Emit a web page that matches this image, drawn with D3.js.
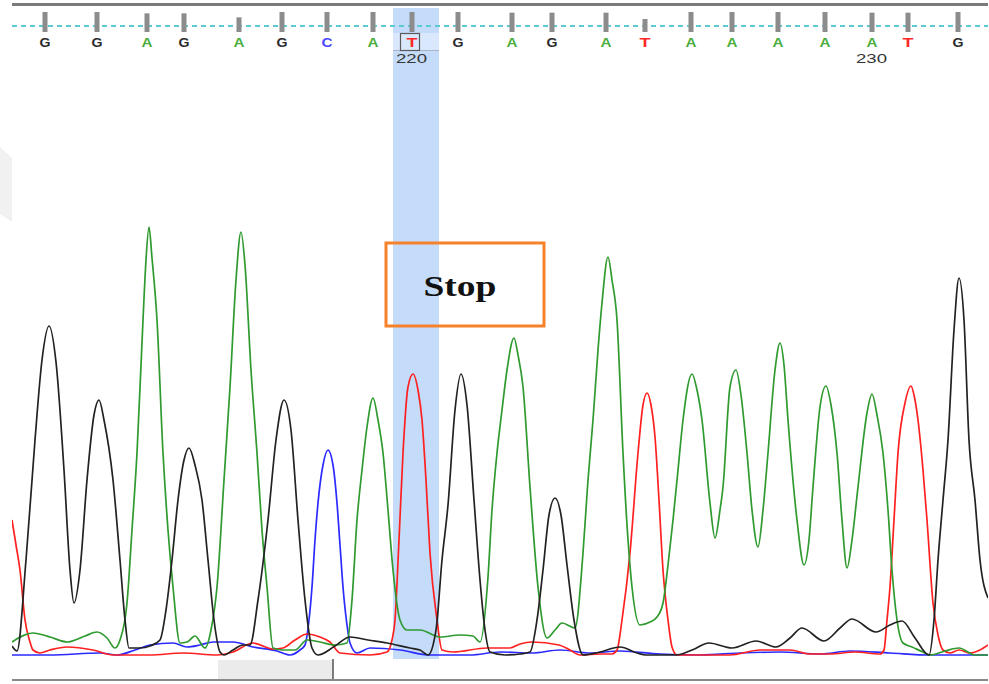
<!DOCTYPE html>
<html>
<head>
<meta charset="utf-8">
<script src="https://cdn.jsdelivr.net/npm/d3@7"></script>
<style>
  body { margin: 0; background: #fff; }
  svg { display: block; }
</style>
</head>
<body>
<svg id="chart"></svg>
<script>
// base calls, positions in scan units, quality values
var bases = ["G","G","A","G","A","G","C","A","T","G","A","G","A","T","A","A","A","A","A","T","G"];
var basePositions = [33,85,135,172,227,270,315,361,400,446,500,540,594,633,679,720,766,813,860,896,946];
var qualities = [60,60,56,56,44,60,60,60,60,60,58,58,58,39,60,60,60,60,58,58,60];
var firstBaseNumber = 212;
var labelledNumbers = [220, 230];
var stopIndex = 8;              // T at 220
var stopRange = [381, 427];     // highlighted scan range

// traces: [scan, signal]
var traceG = [[0,9],[5,4],[14,95],[23,215],[30,295],[37,329],[44,293],[52,185],[58,85],[62,52],[68,85],[75,175],[82,240],[87,255],[92,235],[101,175],[108,95],[113,35],[117,7],[128,7],[138,9],[148,15],[154,45],[160,95],[166,155],[172,195],[177,207],[183,190],[190,155],[196,95],[202,35],[208,3],[212,0],[221,5],[231,10],[238,10],[246,55],[256,135],[264,215],[272,255],[279,225],[286,135],[293,55],[300,7],[306,0],[323,9],[338,18],[356,15],[375,12],[398,7],[408,5],[416,0],[424,25],[430,95],[436,150],[443,245],[449,281],[455,250],[462,155],[468,75],[473,25],[478,3],[493,0],[508,1],[518,3],[525,35],[531,85],[537,140],[543,157],[549,140],[555,90],[562,35],[571,0],[588,3],[608,8],[625,2],[634,0],[664,0],[680,5],[697,12],[720,7],[744,14],[764,8],[778,17],[790,27],[812,14],[828,27],[840,36],[864,23],[878,30],[890,34],[903,17],[917,0],[922,35],[926,95],[931,155],[936,215],[942,325],[947,377],[952,335],[957,215],[963,155],[968,95],[976,57]];

var traceA = [[0,13],[21,22],[38,18],[55,13],[73,19],[85,23],[95,17],[103,7],[108,15],[115,52],[120,125],[125,202],[131,335],[134,395],[137,428],[140,397],[145,335],[151,202],[156,125],[161,68],[168,12],[175,13],[183,19],[193,7],[199,25],[205,68],[212,175],[218,268],[224,375],[229,423],[233,390],[239,285],[245,202],[250,125],[255,68],[261,7],[271,5],[283,5],[295,15],[308,13],[323,10],[335,12],[340,55],[345,135],[350,185],[355,228],[361,257],[366,235],[371,202],[376,145],[381,85],[388,35],[395,25],[408,25],[428,18],[448,20],[461,19],[468,13],[476,78],[480,145],[485,202],[490,245],[495,285],[502,317],[506,300],[511,268],[518,168],[526,68],[535,17],[543,25],[550,32],[563,27],[571,102],[576,175],[581,235],[586,305],[590,352],[596,398],[600,375],[605,335],[611,202],[616,115],[620,68],[628,30],[638,33],[645,38],[651,52],[656,90],[661,135],[666,185],[671,235],[680,281],[685,265],[690,235],[698,152],[703,117],[708,145],[711,168],[718,268],[724,285],[729,260],[735,202],[740,145],[746,108],[751,145],[756,202],[763,285],[768,312],[772,290],[776,235],[785,135],[792,90],[797,115],[801,168],[808,248],[814,269],[819,250],[825,202],[830,135],[835,87],[840,115],[846,168],[855,242],[860,261],[865,240],[871,202],[876,145],[880,85],[885,35],[891,12],[900,8],[911,3],[918,0],[933,4],[947,7],[963,0],[976,0]];

var traceT = [[0,135],[4,110],[8,85],[13,35],[18,13],[21,5],[28,2],[38,5],[55,8],[81,5],[101,0],[138,0],[171,2],[205,0],[221,3],[241,12],[261,6],[271,7],[283,15],[295,21],[308,18],[318,13],[328,2],[358,0],[375,3],[380,15],[383,35],[387,115],[391,202],[396,268],[401,281],[406,265],[410,235],[414,175],[418,102],[425,35],[430,5],[441,3],[475,7],[498,7],[508,11],[520,13],[547,10],[558,5],[568,0],[588,1],[600,1],[605,5],[610,35],[618,102],[626,202],[631,250],[635,262],[639,250],[643,218],[647,155],[651,85],[656,35],[660,8],[665,0],[688,0],[718,0],[748,5],[778,5],[798,1],[818,1],[843,3],[868,1],[872,5],[875,35],[878,68],[882,135],[886,202],[893,252],[899,269],[902,260],[906,235],[911,185],[915,135],[921,52],[926,20],[931,5],[938,2],[947,5],[958,2],[968,5],[976,10]];

var traceC = [[0,0],[38,0],[88,2],[105,0],[123,5],[138,10],[161,12],[175,8],[188,10],[201,13],[221,13],[241,8],[265,4],[278,0],[288,5],[293,10],[297,35],[300,68],[303,115],[306,152],[311,190],[316,205],[321,190],[325,152],[328,110],[331,68],[335,30],[338,12],[345,2],[358,7],[388,5],[418,0],[458,0],[488,3],[520,2],[548,5],[578,2],[608,4],[648,1],[688,0],[728,2],[768,3],[808,1],[838,4],[878,2],[918,0],[976,0]];

var w = 989, h = 684;
var svg = d3.select("#chart").attr("width", w).attr("height", h);

var x = d3.scaleLinear().domain([0, 976]).range([12, 988]);
var y = d3.scaleLinear().domain([0, 450]).range([655, 205]);
var q = d3.scaleLinear().domain([0, 60]).range([0, 20]);

var baseColor = { G: "#2b2b2b", A: "#4aae3c", C: "#4848ff", T: "#ff2828" };
var traceColor = { G: "#222", A: "#2f9a2f", C: "#2b2bff", T: "#ff2020" };

// faint watermark on the left edge
svg.append("polygon")
  .attr("points", "0,147 12,158 12,222 0,214")
  .attr("fill", "#f1f1f1");

// highlight band for the stop codon base
svg.append("rect")
  .attr("x", x(stopRange[0])).attr("y", 8)
  .attr("width", x(stopRange[1]) - x(stopRange[0])).attr("height", 651)
  .attr("fill", "#c4dbfa");

// top border and bottom scroll area
svg.append("line").attr("x1", 12).attr("x2", 988).attr("y1", 4.5).attr("y2", 4.5)
  .attr("stroke", "#7a7a7a").attr("stroke-width", 3);

svg.append("rect").attr("x", 218).attr("y", 660).attr("width", 115).attr("height", 19)
  .attr("fill", "#ebebeb");
svg.append("line").attr("x1", 333).attr("x2", 333).attr("y1", 659).attr("y2", 680)
  .attr("stroke", "#555").attr("stroke-width", 1.5);
svg.append("line").attr("x1", 12).attr("x2", 988).attr("y1", 680).attr("y2", 680)
  .attr("stroke", "#8a8a8a").attr("stroke-width", 2);

// quality reference line
svg.append("line").attr("x1", 12).attr("x2", 988).attr("y1", 26).attr("y2", 26)
  .attr("stroke", "#5ccad2").attr("stroke-width", 1.8).attr("stroke-dasharray", "5,4");

// quality bars
svg.selectAll("rect.qv")
  .data(qualities)
  .enter()
  .append("rect")
  .attr("class", "qv")
  .attr("x", function(d, i) { return x(basePositions[i]) - 2.5; })
  .attr("y", function(d) { return 32 - q(d); })
  .attr("width", 5)
  .attr("height", function(d) { return q(d); })
  .attr("fill", "#8c8c8c");

// selected base cell
var sx = x(basePositions[stopIndex]);
svg.append("rect").attr("x", x(stopRange[0])).attr("y", 33)
  .attr("width", x(stopRange[1]) - x(stopRange[0])).attr("height", 17)
  .attr("fill", "#d9e8fc");
svg.append("line").attr("x1", x(stopRange[0])).attr("x2", x(stopRange[1]))
  .attr("y1", 50.5).attr("y2", 50.5).attr("stroke", "#a8b4c4");
svg.append("rect").attr("x", sx - 11.5).attr("y", 33.5).attr("width", 19).attr("height", 17)
  .attr("fill", "none").attr("stroke", "#5a5a5a").attr("stroke-width", 1.2);

// base letters
svg.selectAll("text.base")
  .data(bases)
  .enter()
  .append("text")
  .attr("class", "base")
  .attr("x", function(d, i) { return x(basePositions[i]) - 5.5; })
  .attr("y", 47)
  .attr("font-family", "'Liberation Sans', Arial, sans-serif")
  .attr("font-weight", "bold")
  .attr("font-size", 13)
  .attr("textLength", 11)
  .attr("lengthAdjust", "spacingAndGlyphs")
  .attr("fill", function(d) { return baseColor[d]; })
  .text(function(d) { return d; });

// position numbers
svg.selectAll("text.num")
  .data(labelledNumbers)
  .enter()
  .append("text")
  .attr("class", "num")
  .attr("x", function(d) { return x(basePositions[d - firstBaseNumber]) - 16; })
  .attr("y", 63)
  .attr("font-family", "'Liberation Sans', Arial, sans-serif")
  .attr("font-size", 13)
  .attr("textLength", 31)
  .attr("lengthAdjust", "spacingAndGlyphs")
  .attr("fill", "#333")
  .text(function(d) { return d; });

// traces
svg.append("clipPath").attr("id", "plotclip")
  .append("rect").attr("x", 12).attr("y", 8).attr("width", 976).attr("height", 652);

var line = d3.line()
  .x(function(d) { return x(d[0]); })
  .y(function(d) { return y(d[1]); })
  .curve(d3.curveMonotoneX);

var traces = [["C", traceC], ["T", traceT], ["A", traceA], ["G", traceG]];
svg.append("g").attr("clip-path", "url(#plotclip)")
  .selectAll("path")
  .data(traces)
  .enter()
  .append("path")
  .attr("d", function(d) { return line(d[1]); })
  .attr("fill", "none")
  .attr("stroke", function(d) { return traceColor[d[0]]; })
  .attr("stroke-width", 1.7)
  .attr("stroke-linejoin", "round");

// stop annotation
svg.append("rect").attr("x", 386).attr("y", 243).attr("width", 158).attr("height", 83)
  .attr("fill", "none").attr("stroke", "#f5822a").attr("stroke-width", 3);
svg.append("text").attr("x", 460).attr("y", 296)
  .attr("text-anchor", "middle")
  .attr("font-family", "'Liberation Serif', 'Times New Roman', serif")
  .attr("font-weight", "bold")
  .attr("font-size", 29)
  .attr("textLength", 73)
  .attr("lengthAdjust", "spacingAndGlyphs")
  .attr("fill", "#111")
  .text("Stop");
</script>
</body>
</html>
